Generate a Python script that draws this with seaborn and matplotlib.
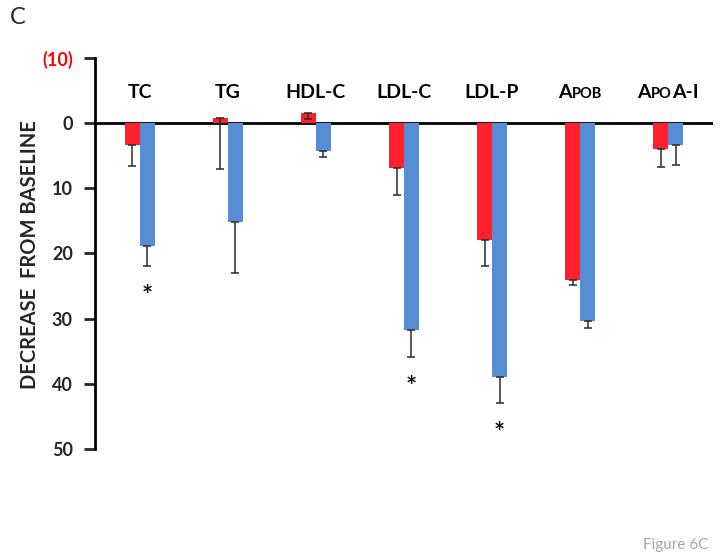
import matplotlib
matplotlib.use("Agg")
import matplotlib.pyplot as plt
import numpy as np
import pandas as pd
import seaborn as sns
from matplotlib.transforms import offset_copy

# ---- data ----
categories = ["TC", "TG", "HDL-C", "LDL-C", "LDL-P", "Apob", "ApoA-I"]
small_caps = [False, False, False, False, False, True, True]
series = ["Red", "Blue"]
red_values = [3.4, -0.8, -1.5, 6.9, 18.0, 24.0, 3.9]
red_errors = [3.2, 7.8, 0.8, 4.1, 3.9, 0.9, 2.9]
blue_values = [18.9, 15.1, 4.3, 31.8, 38.9, 30.4, 3.4]
blue_errors = [3.0, 7.9, 0.9, 4.1, 4.0, 1.1, 3.0]
significant = [True, False, False, True, True, False, False]
y_ticks = [-10, 0, 10, 20, 30, 40, 50]
y_tick_labels = ["(10)", "0", "10", "20", "30", "40", "50"]

RED = "#FF1F2D"
BLUE = "#558ED5"

sns.set_style("white")
plt.rcParams["font.family"] = ["Lato", "DejaVu Sans"]

df = pd.DataFrame({
    "category": categories * 2,
    "group": [series[0]] * len(categories) + [series[1]] * len(categories),
    "value": red_values + blue_values,
})

fig = plt.figure(figsize=(7.28, 5.56), dpi=100)
ax = fig.add_axes([95 / 728, 1 - 449 / 556, (713 - 95) / 728, (449 - 58) / 556])

sns.barplot(data=df, x="category", y="value", hue="group", order=categories,
            hue_order=series, palette=[RED, BLUE], width=0.34, saturation=1,
            errorbar=None, legend=False, ax=ax, zorder=3, edgecolor="none", linewidth=0)

bar_containers = list(ax.containers)[:2]
errs = [red_errors, blue_errors]
vals_all = [red_values, blue_values]
for k, cont in enumerate(bar_containers):
    xs = [b.get_x() + b.get_width() / 2 for b in cont.patches]
    vals = vals_all[k]
    ax.errorbar(xs, vals, yerr=[np.zeros(len(xs)), errs[k]], fmt="none",
                ecolor="#2a2a2a", elinewidth=1.1, capsize=2.6, capthick=1.1, zorder=4)
    if k == 1:
        for x, v, e, s in zip(xs, vals, errs[k], significant):
            if s:
                ax.text(x, v + e + 4.6, "*", ha="center", va="center",
                        fontsize=19, fontweight="bold", color="#111111")

ax.axhline(0, color="black", lw=2, zorder=2)
ax.set_ylim(50, -10)
ax.set_xlim(-0.51, 6.51)
ax.set_yticks(y_ticks)
ax.set_yticklabels(y_tick_labels)
for i, lbl in enumerate(ax.get_yticklabels()):
    lbl.set_fontweight("bold")
    lbl.set_fontsize(13)
    if i == 0:
        lbl.set_color("#FF0000")
ax.tick_params(axis="y", direction="out", length=8, width=2, pad=8, left=True)
ax.tick_params(axis="x", bottom=False, labelbottom=False)
ax.set_xlabel("")
ax.set_ylabel("")
for sp in ["top", "right", "bottom"]:
    ax.spines[sp].set_visible(False)
ax.spines["left"].set_linewidth(2)
ax.spines["left"].set_color("black")


def split_pieces(text, sc):
    if not sc:
        return [(text, False)]
    parts, run, lower = [], "", None
    for ch in text:
        is_low = ch.islower()
        if lower is None or is_low == lower:
            run += ch
        else:
            parts.append((run, lower))
            run = ch
        lower = is_low
    parts.append((run, lower))
    return parts


LABEL_Y = -4.9
fig.canvas.draw()
renderer = fig.canvas.get_renderer()
for i, (c, sc) in enumerate(zip(categories, small_caps)):
    pieces = split_pieces(c, sc)
    texts = []
    for s, low in pieces:
        t = ax.text(i, LABEL_Y, s.upper(), fontsize=10.5 if low else 14,
                    fontweight="bold", ha="left", va="baseline", color="black")
        texts.append(t)
    widths = [t.get_window_extent(renderer).width for t in texts]
    gaps = [0.3] * (len(pieces) - 1)
    total = sum(widths) + sum(gaps)
    off = -total / 2
    for j, (t, w) in enumerate(zip(texts, widths)):
        t.set_transform(offset_copy(ax.transData, fig=fig, x=off * 72 / fig.dpi,
                                    y=-5, units="points"))
        off += w + (gaps[j] if j < len(gaps) else 0)

fig.text(30 / 728, 1 - 255 / 556, "DECREASE  FROM BASELINE", rotation=90,
         ha="center", va="center", fontsize=14.5, fontweight="bold")
fig.text(10 / 728, 1 - 24 / 556, "C", fontsize=17, ha="left", va="baseline")
fig.text(643 / 728, 1 - 549 / 556, "Figure 6C", fontsize=11, color="#A6A6A6",
         ha="left", va="baseline")

fig.savefig("out.png", dpi=100)
